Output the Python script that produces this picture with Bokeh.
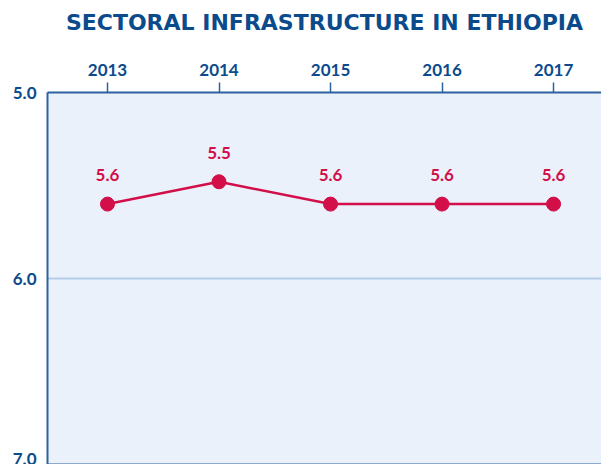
from bokeh.plotting import figure
from bokeh.models import Range1d, FixedTicker, LinearAxis, PrintfTickFormatter
from bokeh.core.properties import value
from bokeh.embed import file_html
from bokeh.resources import INLINE

title_text = "SECTORAL INFRASTRUCTURE IN ETHIOPIA"
years = [2013, 2014, 2015, 2016, 2017]
scores = [5.6, 5.48, 5.6, 5.6, 5.6]
score_labels = ["5.6", "5.5", "5.6", "5.6", "5.6"]
y_ticks = [5.0, 6.0, 7.0]

BLUE = "#0b4b8c"
LINE_BLUE = "#2d62a0"
RED = "#d20f48"
FONT = "Lato"

p = figure(width=601, height=464, output_backend="svg", toolbar_location=None,
           x_range=Range1d(2012.462, 2017.43), y_range=Range1d(7.0, 5.0),
           x_axis_location="above",
           min_border_left=47, min_border_right=0, min_border_top=92, min_border_bottom=0)

p.background_fill_color = "#eaf1fa"
p.border_fill_color = "white"
p.outline_line_color = None

xa = p.xaxis[0]
xa.ticker = FixedTicker(ticks=years)
xa.axis_label = title_text
xa.axis_label_text_font = "DejaVu Sans"
xa.axis_label_text_font_size = "22px"
xa.axis_label_text_font_style = "bold"
xa.axis_label_text_color = BLUE
xa.axis_label_text_line_height = 1.0
xa.axis_label_standoff = 26
xa.major_label_text_font = FONT
xa.major_label_text_font_size = "17px"
xa.major_label_text_font_style = "bold"
xa.major_label_text_color = BLUE
xa.major_label_standoff = 7
xa.major_tick_in = 0
xa.major_tick_out = 10
xa.major_tick_line_color = LINE_BLUE
xa.major_tick_line_width = 1.5
xa.minor_tick_line_color = None
xa.axis_line_color = LINE_BLUE
xa.axis_line_width = 2

ya = p.yaxis[0]
ya.ticker = FixedTicker(ticks=y_ticks)
ya.formatter = PrintfTickFormatter(format="%.1f")
ya.major_label_text_font = FONT
ya.major_label_text_font_size = "17px"
ya.major_label_text_font_style = "bold"
ya.major_label_text_color = BLUE
ya.major_label_standoff = 5
ya.major_tick_line_color = None
ya.minor_tick_line_color = None
ya.axis_line_color = LINE_BLUE
ya.axis_line_width = 2

bottom = LinearAxis(ticker=FixedTicker(ticks=[]), major_label_text_font_size="0px",
                    major_tick_line_color=None, minor_tick_line_color=None,
                    major_tick_in=0, major_tick_out=0, minor_tick_in=0, minor_tick_out=0,
                    major_label_standoff=0,
                    axis_line_color=LINE_BLUE, axis_line_width=2)
p.add_layout(bottom, "below")

p.xgrid.grid_line_color = None
p.ygrid.ticker = FixedTicker(ticks=[6.0])
p.ygrid.grid_line_color = "#b5cdea"
p.ygrid.grid_line_width = 2

p.line(years, scores, line_color=RED, line_width=2.5)
p.scatter(years, scores, size=14, fill_color=RED, line_color=RED)
p.text(years, scores, text=score_labels, text_font=value(FONT), text_font_size="17px",
       text_font_style="bold", text_color=RED, text_align="center",
       text_baseline="alphabetic", y_offset=-29)

open("out.html", "w").write(file_html(p, INLINE))
